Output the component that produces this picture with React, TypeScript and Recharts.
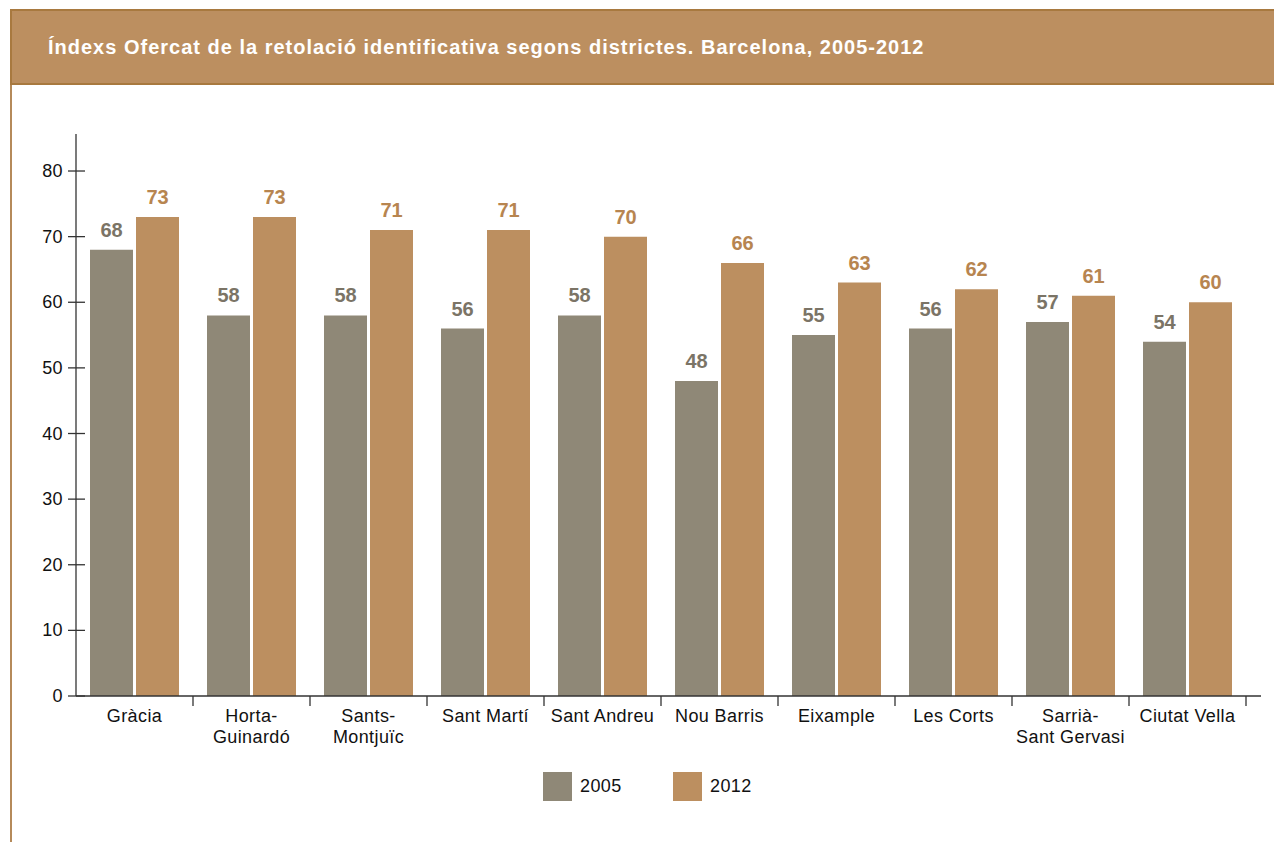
import { BarChart, Bar, XAxis, YAxis, LabelList } from 'recharts'

const districts = [
  'Gràcia',
  'Horta-\nGuinardó',
  'Sants-\nMontjuïc',
  'Sant Martí',
  'Sant Andreu',
  'Nou Barris',
  'Eixample',
  'Les Corts',
  'Sarrià-\nSant Gervasi',
  'Ciutat Vella',
]
const values2005 = [68, 58, 58, 56, 58, 48, 55, 56, 57, 54]
const values2012 = [73, 73, 71, 71, 70, 66, 63, 62, 61, 60]
const yTicks = [0, 10, 20, 30, 40, 50, 60, 70, 80]
const seriesNames = ['2005', '2012']

const title =
  'Índexs Ofercat de la retolació identificativa segons districtes. Barcelona, 2005-2012'

const GRAY = '#8f8877'
const BROWN = '#bc8f60'
const FONT = '"Liberation Sans", Arial, Helvetica, sans-serif'

const data = districts.map((name, i) => ({
  name,
  v2005: values2005[i],
  v2012: values2012[i],
}))

const XTick = ({ x, y, payload }: any) => {
  const half = payload.offset || 58.5
  const lines = String(payload.value).split('\n')
  return (
    <g>
      <line x1={x + half} y1={y} x2={x + half} y2={y + 10} stroke="#333" strokeWidth={1.3} />
      {lines.map((line, i) => (
        <text
          key={i}
          x={x}
          y={y + 26 + i * 21}
          textAnchor="middle"
          fontSize={18}
          letterSpacing={0.4}
          fontFamily={FONT}
          fill="#111"
        >
          {line}
        </text>
      ))}
    </g>
  )
}

const YTick = ({ x, y, payload }: any) => (
  <g>
    <line x1={x - 8} y1={y} x2={x + 9} y2={y} stroke="#333" strokeWidth={1.3} />
    <text
      x={x - 13}
      y={y + 6}
      textAnchor="end"
      fontSize={18}
      letterSpacing={0.4}
      fontFamily={FONT}
      fill="#111"
    >
      {payload.value}
    </text>
  </g>
)

export default function App() {
  return (
    <div
      style={{
        position: 'absolute',
        left: 0,
        top: 0,
        width: 1274,
        height: 842,
        background: '#fff',
        fontFamily: FONT,
        overflow: 'hidden',
      }}
    >
      {/* left border line */}
      <div
        style={{
          position: 'absolute',
          left: 10,
          top: 9,
          width: 2,
          height: 833,
          background: '#b58a5a',
        }}
      />
      {/* header band */}
      <div
        style={{
          position: 'absolute',
          left: 10,
          top: 9,
          width: 1264,
          height: 72,
          background: BROWN,
          borderTop: '2px solid #a8793f',
          borderBottom: '2px solid #a8793f',
          borderLeft: '2px solid #a8793f',
          boxSizing: 'content-box',
        }}
      >
        <div
          style={{
            position: 'absolute',
            left: 36,
            top: 25,
            color: '#fff',
            fontWeight: 700,
            fontSize: 20,
            letterSpacing: 1,
            whiteSpace: 'nowrap',
          }}
        >
          {title}
        </div>
      </div>

      <div style={{ position: 'absolute', left: 0, top: 0 }}>
        <BarChart
          width={1274}
          height={842}
          data={data}
          margin={{ top: 134, right: 13, left: 16, bottom: 86 }}
          barSize={43}
          barGap={3}
        >
          <XAxis
            dataKey="name"
            height={60}
            interval={0}
            tickSize={0}
            tickMargin={0}
            tickLine={false}
            axisLine={{ stroke: '#333', strokeWidth: 1.3 }}
            padding={{ left: 0, right: 15 }}
            tick={<XTick />}
          />
          <YAxis
            width={60}
            domain={[0, 85.64]}
            ticks={yTicks}
            allowDataOverflow
            tickSize={0}
            tickMargin={0}
            tickLine={false}
            axisLine={{ stroke: '#333', strokeWidth: 1.3 }}
            tick={<YTick />}
          />
          <Bar dataKey="v2005" name={seriesNames[0]} fill={GRAY} isAnimationActive={false}>
            <LabelList
              dataKey="v2005"
              position="top"
              offset={13}
              fill="#7b7466"
              fontSize={20}
              fontWeight={700}
              fontFamily={FONT}
            />
          </Bar>
          <Bar dataKey="v2012" name={seriesNames[1]} fill={BROWN} isAnimationActive={false}>
            <LabelList
              dataKey="v2012"
              position="top"
              offset={13}
              fill="#b78550"
              fontSize={20}
              fontWeight={700}
              fontFamily={FONT}
            />
          </Bar>
        </BarChart>
      </div>

      {/* legend */}
      {seriesNames.map((s, i) => (
        <div
          key={s}
          style={{
            position: 'absolute',
            left: 543 + i * 130,
            top: 772,
            display: 'flex',
            alignItems: 'center',
          }}
        >
          <div style={{ width: 29, height: 29, background: i === 0 ? GRAY : BROWN }} />
          <span style={{ marginLeft: 8, fontSize: 18, letterSpacing: 0.4, color: '#111' }}>{s}</span>
        </div>
      ))}
    </div>
  )
}
